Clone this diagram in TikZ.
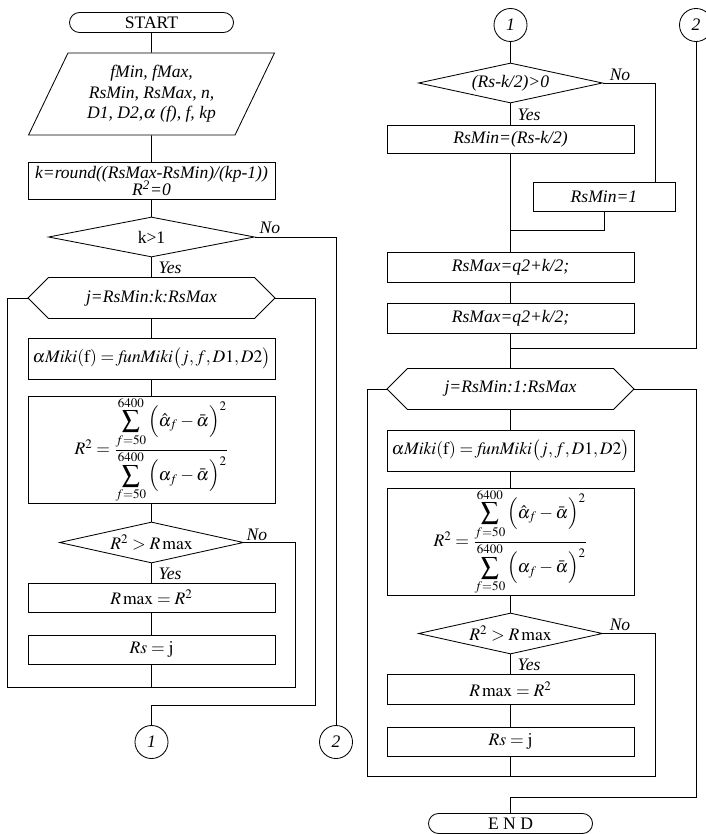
\documentclass[tikz,border=0pt]{standalone}
\usepackage{mathptmx}
\usepackage[no-math]{fontspec}
\setmainfont{Liberation Serif}
\usetikzlibrary{shapes.geometric}
\usetikzlibrary{calc}
\newcommand{\colA}{151.5}
\newcommand{\colB}{510.5}
\newcommand{\hexin}{0.5125cm}
\newcommand{\txtfont}{\fontsize{12.5}{14.6}\selectfont}
\newcommand{\miki}{$\alpha\mathit{Miki}(\mathrm{f})=\mathit{funMiki}\big(j,f,D1,D2\big)$}
\newcommand{\rformula}{$R^2=\frac{\displaystyle\sum_{f=50}^{6400}\Big(\hat{\alpha}_f-\bar{\alpha}\Big)^2}
  {\displaystyle\sum_{f=50}^{6400}\Big(\alpha_f-\bar{\alpha}\Big)^2}$}
\newcommand{\drawhex}[1]{%
  \draw (#1.west) -- ($(#1.north west)+(\hexin,0)$)
    -- ($(#1.north east)-(\hexin,0)$) -- (#1.east)
    -- ($(#1.south east)-(\hexin,0)$) -- ($(#1.south west)+(\hexin,0)$) -- cycle;}

\begin{document}
\begin{tikzpicture}[x=0.025cm,y=-0.025cm,line width=0.6pt,
    font=\txtfont\itshape,
    term/.style={draw,rounded corners=0.25cm,minimum width=4.1cm,
      minimum height=0.5cm,inner sep=0pt,font=\txtfont\upshape},
    io/.style={draw,trapezium,trapezium left angle=62,trapezium right angle=118,
      trapezium stretches=true,minimum width=6.15cm,minimum height=2.05cm,
      align=center,inner sep=0pt},
    proc/.style={draw,minimum width=6.175cm,inner sep=0pt,align=center},
    cond/.style={draw,diamond,aspect=5,inner sep=0pt},
    loophead/.style={minimum width=6.175cm,minimum height=1.025cm,
      inner sep=0pt,outer sep=0pt},
    conn/.style={draw,circle,minimum size=0.825cm,inner sep=0pt},
    lbl/.style={inner sep=1pt}]
  \useasboundingbox (0,0) rectangle (705,834);

  % left column
  \node (start) [term] at (\colA,22.5) {START};
  \node (inp) [io] at (\colA,94) {fMin, fMax,\\ RsMin, RsMax, n,\\ D1, D2,$\alpha$ (f), f, kp};
  \node (kbox) [proc,minimum height=0.925cm] at (\colA,181)
    {k=round((RsMax-RsMin)/(kp-1))\\[-2pt] R\textsuperscript{2}=0};
  \node (kdec) [cond,minimum width=5.15cm,minimum height=1cm,font=\txtfont\upshape]
    at (\colA,237) {k>1};
  \node (loopA) [loophead] at (\colA,298) {j=RsMin:k:RsMax};
  \drawhex{loopA}
  \node (mikiA) [proc,minimum height=1.025cm] at (\colA,358.5) {\miki};
  \node (rA) [proc,minimum height=2.55cm] at (\colA,450) {\rformula};
  \node (dA) [cond,minimum width=4.6cm,minimum height=1.025cm] at (\colA,542.5) {$R^2>R\max$};
  \node (maxA) [proc,minimum height=0.725cm] at (\colA,597.5) {$R\max=R^2$};
  \node (rsA) [proc,minimum height=0.725cm] at (\colA,649.5) {$Rs=\mathrm{j}$};
  \node (conA) [conn] at (\colA,742) {1};
  \node (conB) [conn] at (336,742) {2};

  \node (noA) [lbl] at (270,228) {No};
  \node (yesA) [lbl] at (170,268) {Yes};
  \node (noA2) [lbl] at (257,535) {No};
  \node (yesA2) [lbl] at (170,574) {Yes};

  \draw (start.south) -- (inp.north);
  \draw (inp.south) -- (kbox.north);
  \draw (kbox.south) -- (kdec.north);
  \draw (kdec.south) -- (loopA.north);
  \draw (kdec.east) -| (conB.north);
  \draw (loopA.south) -- (mikiA.north);
  \draw (mikiA.south) -- (rA.north);
  \draw (rA.south) -- (dA.north);
  \draw (dA.south) -- (maxA.north);
  \draw (maxA.south) -- (rsA.north);
  \coordinate (retA) at (295,687);
  \coordinate (backA) at (7,687);
  \draw (dA.east) -| (retA) -- (backA) |- (loopA.west);
  \draw (rsA.south) -- (rsA.south |- retA);
  \coordinate (exitA) at (315,705);
  \draw (loopA.east) -| (exitA) -| (conA.north);

  % right column
  \node (conC) [conn] at (\colB,25) {1};
  \node (conD) [conn] at (696,25) {2};
  \node (dB) [cond,minimum width=4.6cm,minimum height=1cm] at (\colB,83) {(Rs-k/2)>0};
  \node (minB) [proc,minimum height=0.7cm] at (\colB,139) {RsMin=(Rs-k/2)};
  \node (oneB) [proc,minimum width=3.55cm,minimum height=0.725cm] at (604,196.5) {RsMin=1};
  \node (qB1) [proc,minimum height=0.75cm] at (\colB,267) {RsMax=q2+k/2;};
  \node (qB2) [proc,minimum height=0.75cm] at (\colB,318) {RsMax=q2+k/2;};
  \node (loopB) [loophead] at (\colB,389) {j=RsMin:1:RsMax};
  \drawhex{loopB}
  \node (mikiB) [proc,minimum height=1.025cm] at (\colB,450.5) {\miki};
  \node (rB) [proc,minimum height=2.55cm] at (\colB,542) {\rformula};
  \node (dB2) [cond,minimum width=4.6cm,minimum height=1.025cm] at (\colB,633.5) {$R^2>R\max$};
  \node (maxB) [proc,minimum height=0.75cm] at (\colB,689) {$R\max=R^2$};
  \node (rsB) [proc,minimum height=0.725cm] at (\colB,741.5) {$Rs=\mathrm{j}$};
  \node (endB) [term] at (\colB,823.5) {E N D};

  \node (noB) [lbl] at (620,75) {No};
  \node (yesB) [lbl] at (529,115) {Yes};
  \node (noB2) [lbl] at (620,625) {No};
  \node (yesB2) [lbl] at (529,665) {Yes};

  \draw (conC.south) -- (dB.north);
  \draw (dB.south) -- (minB.north);
  \draw (dB.east) -| ([xshift=-0.5cm]oneB.north east);
  \coordinate (joinB) at (\colB,230);
  \draw (oneB.south) |- (joinB);
  \draw (minB.south) -- (qB1.north);
  \draw (qB1.south) -- (qB2.north);
  \coordinate (joinC) at (\colB,348);
  \draw (conD.south) |- (joinC);
  \draw (qB2.south) -- (loopB.north);
  \draw (loopB.south) -- (mikiB.north);
  \draw (mikiB.south) -- (rB.north);
  \draw (rB.south) -- (dB2.north);
  \draw (dB2.south) -- (maxB.north);
  \draw (maxB.south) -- (rsB.north);
  \coordinate (retB) at (655,776);
  \coordinate (backB) at (367,776);
  \draw (dB2.east) -| (retB) -- (backB) |- (loopB.west);
  \draw (rsB.south) -- (rsB.south |- retB);
  \coordinate (exitB) at (696,797);
  \draw (loopB.east) -| (exitB) -| (endB.north);
\end{tikzpicture}
\end{document}
